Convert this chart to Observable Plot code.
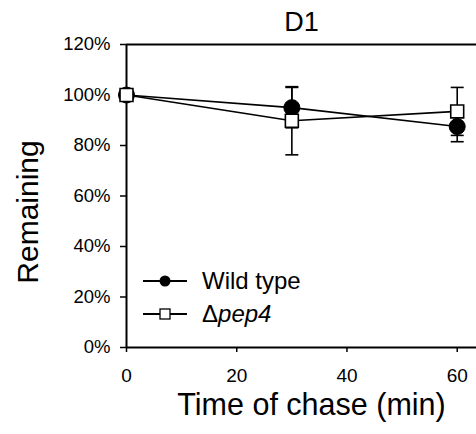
<!DOCTYPE html>
<html><head><meta charset="utf-8">
<script src="https://cdn.jsdelivr.net/npm/d3@7"></script>
<script src="https://cdn.jsdelivr.net/npm/@observablehq/plot@0.6"></script>
<style>
body{margin:0;background:#fff;}
#wrap{position:relative;width:476px;height:434px;font-family:"Liberation Sans",Arial,sans-serif;}
#legend{position:absolute;left:143px;top:264px;}
.row{display:flex;align-items:center;height:33px;font-size:24px;color:#000;}
.row svg{margin-right:15px;}
</style></head><body><div id="wrap"><div id="legend"></div></div>
<script>
const times = [0, 30, 60];
const seriesNames = ["Wild type", "Δpep4"];
const wildType = [100, 95, 87.5];
const wildTypeErr = [0, 8, 6];
const pep4 = [100, 89.8, 93.5];
const pep4Err = [0, 13.5, 9.5];
const xTicks = [0, 20, 40, 60];
const yTicks = [0, 20, 40, 60, 80, 100, 120];

const wt = times.map((t, i) => ({t, v: wildType[i], lo: wildType[i] - wildTypeErr[i], hi: wildType[i] + wildTypeErr[i], e: wildTypeErr[i]}));
const pp = times.map((t, i) => ({t, v: pep4[i], lo: pep4[i] - pep4Err[i], hi: pep4[i] + pep4Err[i], e: pep4Err[i]}));
const errs = wt.concat(pp).filter(d => d.e > 0);
const capEnds = errs.flatMap(d => [{t: d.t, y: d.lo}, {t: d.t, y: d.hi}]);

const capSymbol = {
  draw(context, size) {
    const w = Math.sqrt(size / Math.PI);
    context.moveTo(-w, 0);
    context.lineTo(w, 0);
  }
};

const chart = Plot.plot({
  width: 476,
  height: 434,
  marginTop: 44,
  marginBottom: 87,
  marginLeft: 126,
  marginRight: 0,
  style: {fontFamily: "Liberation Sans, Arial, sans-serif", background: "#fff", overflow: "visible", color: "#000"},
  x: {domain: [0, 63.5]},
  y: {domain: [0, 120]},
  marks: [
    Plot.axisY({ticks: yTicks, tickFormat: d => d + "%", tickSize: 6, tickPadding: 10, fontSize: 18.5, label: null, strokeWidth: 1.5}),
    Plot.axisX({ticks: xTicks, tickSize: 5, tickPadding: 16, fontSize: 19, label: null, strokeWidth: 1.5}),
    Plot.ruleX([0], {stroke: "#000", strokeWidth: 2}),
    Plot.ruleY([0], {stroke: "#000", strokeWidth: 2}),
    Plot.ruleY([120], {stroke: "#000", strokeWidth: 2}),
    Plot.line(wt, {x: "t", y: "v", stroke: "#000", strokeWidth: 1.6}),
    Plot.line(pp, {x: "t", y: "v", stroke: "#000", strokeWidth: 1.6}),
    Plot.ruleX(errs, {x: "t", y1: "lo", y2: "hi", stroke: "#000", strokeWidth: 1.6}),
    Plot.dot(capEnds, {x: "t", y: "y", symbol: capSymbol, r: 6.5, stroke: "#000", strokeWidth: 1.6, fill: "none"}),
    Plot.dot(wt, {x: "t", y: "v", r: 8, fill: "#000", stroke: "#000", strokeWidth: 1}),
    Plot.dot(pp, {x: "t", y: "v", symbol: "square", r: 7.3, fill: "#fff", stroke: "#000", strokeWidth: 1.6}),
    Plot.text(["D1"], {text: d => d, frameAnchor: "top", dy: -33, fontSize: 27, fill: "#000"}),
    Plot.text(["Time of chase (min)"], {text: d => d, frameAnchor: "bottom", dy: 67, dx: 10, fontSize: 30.5, fill: "#000"}),
    Plot.text(["Remaining"], {text: d => d, frameAnchor: "left", textAnchor: "middle", rotate: -90, dx: -98, dy: 16, fontSize: 30, fill: "#000"})
  ]
});
const wrap = document.getElementById("wrap");
wrap.insertBefore(chart, wrap.firstChild);

const legend = document.getElementById("legend");
const glyphs = [
  '<svg width="44" height="14"><line x1="0" y1="7" x2="44" y2="7" stroke="#000" stroke-width="2"/><circle cx="22" cy="7" r="5.5" fill="#000"/></svg>',
  '<svg width="44" height="14"><line x1="0" y1="7" x2="44" y2="7" stroke="#000" stroke-width="2"/><rect x="17" y="2" width="10" height="10" fill="#fff" stroke="#000" stroke-width="1.3"/></svg>'
];
const labels = ['Wild type', 'Δ<i>pep4</i>'];
seriesNames.forEach((name, i) => {
  const row = document.createElement("div");
  row.className = "row";
  row.innerHTML = glyphs[i] + '<span title="' + name + '">' + labels[i] + '</span>';
  legend.appendChild(row);
});
</script></body></html>
